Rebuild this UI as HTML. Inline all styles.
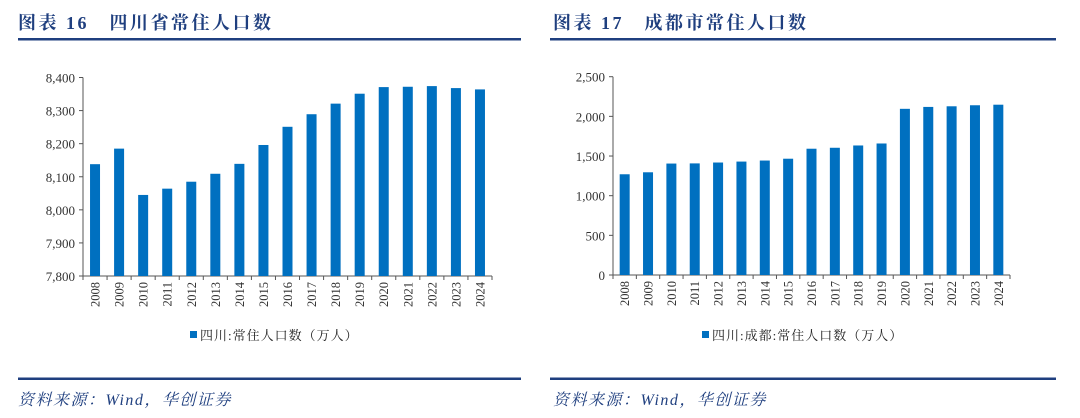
<!DOCTYPE html>
<html><head><meta charset="utf-8"><style>
html,body{margin:0;padding:0;background:#fff;}
svg{display:block;}
</style></head><body>
<svg id="root" width="1080" height="418" xmlns="http://www.w3.org/2000/svg"></svg>
<script>
const years = ["2008","2009","2010","2011","2012","2013","2014","2015","2016","2017","2018","2019","2020","2021","2022","2023","2024"];
const sichuanPop = [8138,8185,8045,8064,8085,8109,8139,8196,8251,8289,8321,8351,8371,8372,8374,8368,8364];
const chengduPop = [1270,1295,1405,1407,1418,1430,1443,1466,1592,1604,1633,1658,2095,2119,2127,2140,2147];
const leftTicks = [7800,7900,8000,8100,8200,8300,8400];
const rightTicks = [0,500,1000,1500,2000,2500];

const NS = "http://www.w3.org/2000/svg";
const root = document.getElementById('root');
function mk(tag, attrs, parent, text){
  const e = document.createElementNS(NS, tag);
  for (const k in attrs) e.setAttribute(k, attrs[k]);
  if (text !== undefined) e.textContent = text;
  (parent||root).appendChild(e);
  return e;
}
const CJK = '"Liberation Serif","Noto Serif CJK SC","Noto Sans CJK SC",serif';
const fmt = v => v.toLocaleString('en-US');

function panel(p){
  const g = mk('g', {});
  
  
  const t = mk('text', {x:p.titleX, y:29, 'font-family':CJK, 'font-size':18, 'font-weight':'bold', 'letter-spacing':2.5, fill:'#1f3f7f'}, g, p.title);
  
  
  const hl = mk('rect', {x:p.lineX0, y:38, width:p.lineX1-p.lineX0, height:2.5, fill:'#1f3f7f'}, g);
  
  
  const fl = mk('rect', {x:p.lineX0, y:377.5, width:p.lineX1-p.lineX0, height:2.5, fill:'#1f3f7f'}, g);
  
  
  const src = mk('text', {x:p.titleX, y:405, 'font-family':CJK, 'font-size':16, 'font-style':'italic', 'letter-spacing':1.5, fill:'#1f3f7f'}, g, '资料来源：Wind，华创证券');
  
  

  const x0=p.x0, x1=p.x1, yTop=p.yTop, yBot=p.yBot;
  const ymin=p.ticks[0], ymax=p.ticks[p.ticks.length-1];
  const yS = v => yBot - (v-ymin)/(ymax-ymin)*(yBot-yTop);
  const bw = (x1-x0)/years.length;
  const xS = i => x0 + bw*i;

  const ax = mk('g', {}, g);
  
  
  mk('line', {x1:x0, y1:yTop, x2:x0, y2:yBot, stroke:'#555', 'stroke-width':1}, ax);
  p.ticks.forEach(v=>{
    const y = yS(v);
    mk('line', {x1:x0-4, y1:y, x2:x0, y2:y, stroke:'#555', 'stroke-width':1}, ax);
    const tl = mk('text', {x:x0-8, y:y+5, 'text-anchor':'end', 'font-family':'"Liberation Serif",serif', 'font-size':13, fill:'#333'}, ax, fmt(v));
    
    
  });
  const xa = mk('g', {}, g);
  
  
  mk('line', {x1:x0, y1:yBot, x2:x1, y2:yBot, stroke:'#555', 'stroke-width':1}, xa);
  years.forEach((yr,i)=>{
    mk('line', {x1:xS(i), y1:yBot, x2:xS(i), y2:yBot+4, stroke:'#555', 'stroke-width':1}, xa);
    const cx = xS(i)+bw/2;
    const tl = mk('text', {x:0, y:0, transform:`translate(${cx+4.5},${yBot+6}) rotate(-90)`, 'text-anchor':'end', 'font-family':'"Liberation Serif",serif', 'font-size':12.5, fill:'#333'}, xa, yr);
    
    
  });
  mk('line', {x1:x1, y1:yBot, x2:x1, y2:yBot+4, stroke:'#555', 'stroke-width':1}, xa);

  const bars = mk('g', {}, g);
  
  
  p.values.forEach((v,i)=>{
    const w = 10;
    const y = yS(v);
    const r = mk('rect', {x:xS(i)+(bw-w)/2, y:y, width:w, height:yBot-y, fill:'#0070c0'}, bars);
    
    
  });

  const lg = mk('g', {}, g);
  
  
  mk('rect', {x:p.legX, y:331, width:7, height:7, fill:'#0070c0'}, lg);
  mk('text', {x:p.legX+10, y:340, 'font-family':CJK, 'font-size':13, 'letter-spacing':1, fill:'#222'}, lg, p.legend);
}

panel({name:'sichuan-chart', title:'图表 16　四川省常住人口数', titleX:18, lineX0:18, lineX1:521,
  x0:83, x1:492, yTop:77.5, yBot:276, ticks:leftTicks, values:sichuanPop, legX:190, legend:'四川:常住人口数（万人）'});
panel({name:'chengdu-chart', title:'图表 17　成都市常住人口数', titleX:553, lineX0:550, lineX1:1056,
  x0:613, x1:1010, yTop:76.7, yBot:275, ticks:rightTicks, values:chengduPop, legX:702, legend:'四川:成都:常住人口数（万人）'});
</script>
</body></html>
